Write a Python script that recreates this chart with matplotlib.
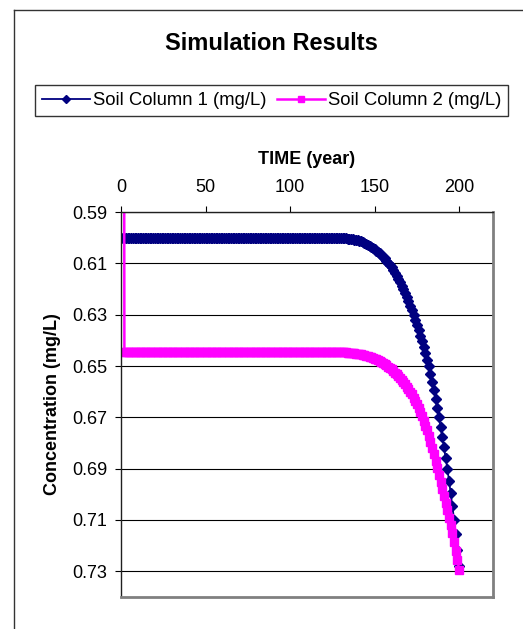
import numpy as np
import matplotlib.pyplot as plt
from matplotlib.lines import Line2D

plt.rcParams['font.family'] = ['Liberation Sans', 'DejaVu Sans']

# yearly time steps
years = np.arange(0, 201)

# Soil column 1: flat until ~125 years, then the yearly values (125..200)
col1_flat = [0.600] * 125
col1_tail = [0.6000, 0.6000, 0.6001, 0.6001, 0.6001, 0.6002, 0.6002, 0.6003, 0.6003, 0.6004,
             0.6005, 0.6006, 0.6007, 0.6008, 0.6009, 0.6010, 0.6012, 0.6014, 0.6017, 0.6020,
             0.6023, 0.6027, 0.6031, 0.6035, 0.6040, 0.6045, 0.6050, 0.6055, 0.6061, 0.6067,
             0.6074, 0.6081, 0.6089, 0.6097, 0.6106, 0.6115, 0.6125, 0.6136, 0.6148, 0.6160,
             0.6173, 0.6187, 0.6201, 0.6216, 0.6232, 0.6248, 0.6265, 0.6282, 0.6300, 0.6319,
             0.6339, 0.6360, 0.6382, 0.6404, 0.6427, 0.6451, 0.6475, 0.6500, 0.6530, 0.6561,
             0.6594, 0.6628, 0.6663, 0.6700, 0.6738, 0.6777, 0.6817, 0.6858, 0.6900, 0.6947,
             0.6996, 0.7047, 0.7100, 0.7155, 0.7215, 0.7280]

# Soil column 2: starts at 0 (off the top of the inverted axis), then flat, then the tail (125..200)
col2_start = [0.0, 0.0]
col2_flat = [0.6444] * 123
col2_tail = [0.6444, 0.6444, 0.6445, 0.6445, 0.6445, 0.6446, 0.6446, 0.6447, 0.6447, 0.6448,
             0.6448, 0.6449, 0.6450, 0.6451, 0.6452, 0.6453, 0.6454, 0.6455, 0.6457, 0.6458,
             0.6460, 0.6462, 0.6464, 0.6466, 0.6468, 0.6471, 0.6474, 0.6477, 0.6480, 0.6484,
             0.6488, 0.6492, 0.6497, 0.6502, 0.6507, 0.6513, 0.6519, 0.6526, 0.6533, 0.6540,
             0.6547, 0.6554, 0.6562, 0.6571, 0.6580, 0.6589, 0.6600, 0.6611, 0.6623, 0.6635,
             0.6649, 0.6664, 0.6679, 0.6696, 0.6713, 0.6732, 0.6751, 0.6772, 0.6795, 0.6819,
             0.6844, 0.6871, 0.6898, 0.6925, 0.6952, 0.6979, 0.7006, 0.7034, 0.7062, 0.7091,
             0.7121, 0.7152, 0.7185, 0.7220, 0.7257, 0.7295]

soil1 = col1_flat + col1_tail
soil2 = col2_start + col2_flat + col2_tail

xticks = [0, 50, 100, 150, 200]
yticks = [0.59, 0.61, 0.63, 0.65, 0.67, 0.69, 0.71, 0.73]

W, H = 523, 629
fig = plt.figure(figsize=(W / 100, H / 100), dpi=100)

# outer chart frame (Excel chart area): only its left and top edges are inside the image
fx, fy = 13.5 / W, 1 - 9.5 / H
fig.add_artist(Line2D([fx, fx], [0, fy], transform=fig.transFigure, color='#333333', lw=1.0))
fig.add_artist(Line2D([fx, 1], [fy, fy], transform=fig.transFigure, color='#333333', lw=1.0))

ax = fig.add_axes([121 / W, 32 / H, 372 / W, 385 / H])

ax.plot(years, soil1, color='#000080', lw=1.3, marker='D', ms=5.0,
        mec='#000080', mfc='#000080', label='Soil Column 1 (mg/L)')
ax.plot(years, soil2, color='#FF00FF', lw=1.8, marker='s', ms=5.2,
        mec='#FF00FF', mfc='#FF00FF', label='Soil Column 2 (mg/L)')

ax.set_xlim(0, 220)
ax.set_ylim(0.74, 0.59)
ax.set_xticks(xticks)
ax.set_yticks(yticks)
ax.set_yticklabels(['%.2f' % v for v in yticks])
ax.xaxis.tick_top()
ax.xaxis.set_label_position('top')
ax.tick_params(axis='x', direction='out', length=4.5, width=0.8, pad=7, labelsize=13)
ax.tick_params(axis='y', direction='out', length=4.5, width=0.8, pad=5.5, labelsize=13)
ax.set_xlabel('TIME (year)', fontsize=13, fontweight='bold', labelpad=11)
ax.set_ylabel('Concentration (mg/L)', fontsize=13, fontweight='bold', labelpad=8)

ax.yaxis.grid(True, color='black', lw=0.8)
ax.set_axisbelow(True)
for s in ['left', 'top']:
    ax.spines[s].set_color('#202020')
    ax.spines[s].set_linewidth(1.0)
for s in ['right', 'bottom']:
    ax.spines[s].set_color('#808080')
    ax.spines[s].set_linewidth(2.0)

fig.text(271 / W, 1 - 43 / H, 'Simulation Results', fontsize=17, fontweight='bold',
         ha='center', va='center')

leg = fig.legend(loc='center', bbox_to_anchor=(271.5 / W, 1 - 100.5 / H), ncol=2,
                 fontsize=13.3, frameon=True, fancybox=False, numpoints=1, markerscale=0.8,
                 handlelength=2.6, handletextpad=0.16, columnspacing=0.55,
                 borderpad=0.4, borderaxespad=0)
leg.get_frame().set_edgecolor('black')
leg.get_frame().set_linewidth(1.0)

plt.savefig('out.png', dpi=100)
